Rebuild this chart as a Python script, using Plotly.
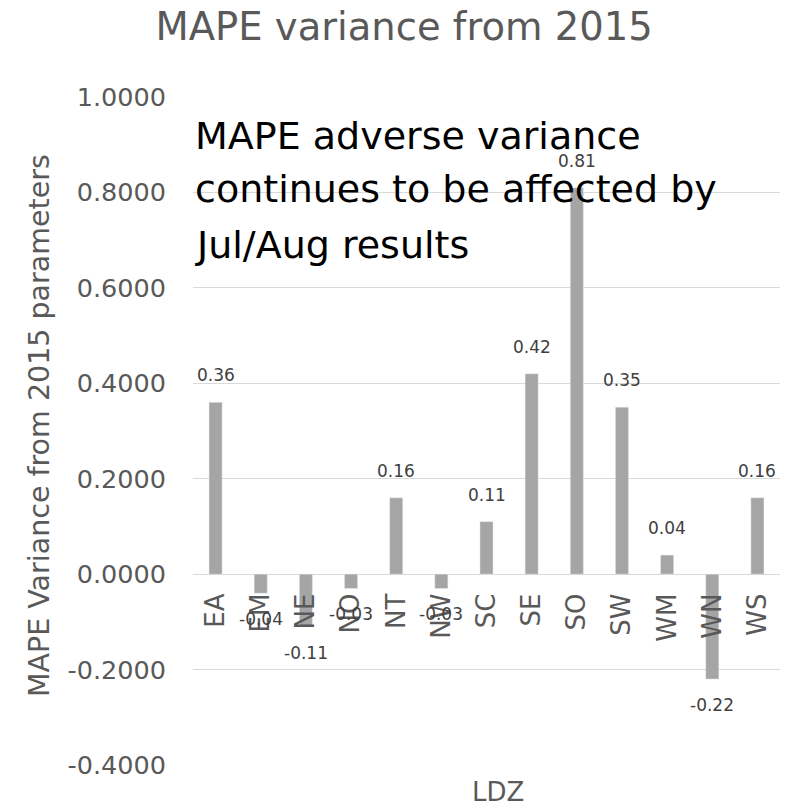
import plotly.graph_objects as go

categories = ["EA", "EM", "NE", "NO", "NT", "NW", "SC", "SE", "SO", "SW", "WM", "WN", "WS"]
values = [0.36, -0.04, -0.11, -0.03, 0.16, -0.03, 0.11, 0.42, 0.81, 0.35, 0.04, -0.22, 0.16]
y_ticks = [-0.4, -0.2, 0.0, 0.2, 0.4, 0.6, 0.8, 1.0]
y_tick_labels = [f"{v:.4f}" for v in y_ticks]
title_text = "MAPE variance from 2015"
y_title = "MAPE Variance from 2015 parameters"
x_title = "LDZ"
note_lines = ["MAPE adverse variance", "continues to be affected by", "Jul/Aug results"]

FONT = "DejaVu Sans"
y_range = [-0.4, 1.0]
zero_pos = (0 - y_range[0]) / (y_range[1] - y_range[0])

fig = go.Figure()
fig.add_trace(go.Bar(
    x=categories, y=values, marker_color="#a5a5a5", width=0.29,
    showlegend=False, hoverinfo="x+y",
))

for c, v in zip(categories, values):
    fig.add_annotation(
        x=c, y=v, text=f"{v:.2f}", showarrow=False,
        yshift=27 if v >= 0 else -26,
        font=dict(family=FONT, size=17, color="#404040"),
    )

note_y = [0.9782, 0.8988, 0.8150]
for line, yy in zip(note_lines, note_y):
    fig.add_annotation(
        xref="paper", yref="paper", x=0.0, y=yy, xanchor="left", yanchor="top",
        text=line, showarrow=False, align="left",
        font=dict(family=FONT, size=38, color="#000000"),
    )
fig.add_annotation(
    xref="paper", yref="paper", x=0.5196, y=-0.0404, xanchor="center", yanchor="middle",
    text=x_title, showarrow=False,
    font=dict(family=FONT, size=26, color="#595959"),
)
fig.add_annotation(
    xref="paper", yref="paper", x=-0.2606, y=0.5075, xanchor="center", yanchor="middle",
    text=y_title, showarrow=False, textangle=-90,
    font=dict(family=FONT, size=28.5, color="#595959"),
)

fig.update_layout(
    width=797, height=799,
    margin=dict(l=185, r=25, t=89, b=42),
    paper_bgcolor="white", plot_bgcolor="white",
    title=dict(text=title_text, x=0.497, xanchor="center", y=0.977, yanchor="middle",
               font=dict(family=FONT, size=38.5, color="#595959")),
)
fig.update_xaxes(
    type="category", tickangle=-90, anchor="free", position=zero_pos,
    showline=False, automargin=False,
    ticks="outside", ticklen=8, tickcolor="rgba(0,0,0,0)",
    tickfont=dict(family=FONT, size=26, color="#595959"),
    showgrid=False,
)
fig.update_yaxes(
    range=y_range, tickvals=y_ticks, ticktext=y_tick_labels,
    showgrid=True, gridcolor="#d9d9d9", gridwidth=1, zeroline=False,
    tickfont=dict(family=FONT, size=25.5, color="#595959"),
    ticks="", ticklabelstandoff=26, automargin=False,
)

fig.write_html("out.html")
